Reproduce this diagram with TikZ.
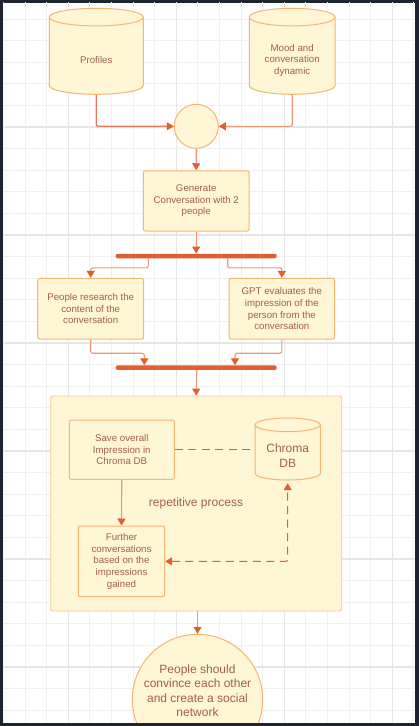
\documentclass[tikz,border=0pt]{standalone}
\usepackage{fontspec}
\setmainfont{Liberation Sans}
\usetikzlibrary{arrows.meta,calc}

\definecolor{frame}{HTML}{1E2430}
\definecolor{gridminor}{HTML}{F0F0F0}
\definecolor{gridmajor}{HTML}{E6E6E6}
\definecolor{boxfill}{HTML}{FFF6D6}
\definecolor{boxline}{HTML}{F5B574}
\definecolor{contline}{HTML}{F8C594}
\definecolor{txt}{HTML}{A0604A}
\definecolor{wire}{HTML}{F0977A}
\definecolor{tip}{HTML}{E35E2E}

\tikzset{
  box/.style={draw=boxline, fill=boxfill, line width=1pt, rounded corners=2pt,
    text=txt, align=center, inner sep=2pt,
    font=\fontsize{9.7}{11.7}\selectfont},
  dbtext/.style={text=txt, align=center, inner sep=0pt,
    font=\fontsize{9.7}{11.7}\selectfont},
  dbstyle/.style={draw=boxline, fill=boxfill, line width=1pt},
  hubnode/.style={circle, draw=boxline, fill=boxfill, line width=1pt, inner sep=0pt},
  barnode/.style={fill=tip, rounded corners=2pt, inner sep=0pt, minimum height=4.5pt},
  wire/.style={draw=wire, line width=1.1pt, rounded corners=2pt,
    -{Triangle[width=8pt,length=7pt,color=tip]}},
  dashline/.style={draw=tip, line width=1pt, dash pattern=on 8pt off 5.5pt, rounded corners=2pt},
  txtnode/.style={text=txt, align=center, inner sep=0pt,
    font=\fontsize{12}{14.4}\selectfont},
}

% cylinder outline: x-left, x-right, y-top, y-bottom, ellipse half-height
\newcommand\drawdb[5]{%
  \pgfmathsetmacro\dbrx{(#2-#1)/2}%
  \path[dbstyle] (#1,#3+#5) -- (#1,#4-#5)
    arc[start angle=180,end angle=360,x radius=\dbrx pt,y radius=#5pt]
    -- (#2,#3+#5)
    arc[start angle=0,end angle=180,x radius=\dbrx pt,y radius=#5pt] -- cycle;
  \draw[dbstyle, fill=none] (#1,#3+#5)
    arc[start angle=180,end angle=360,x radius=\dbrx pt,y radius=#5pt];
}

\begin{document}
\begin{tikzpicture}[x=1pt,y=-1pt]
\useasboundingbox (0,0) rectangle (419,726);

% window frame
\fill[frame] (0,0) rectangle (419,726);
\fill[white] (3.3,2.7) rectangle (414.7,722.7);

\begin{scope}
\clip (3.3,2.7) rectangle (414.7,722.7);

% background grid
\foreach \k in {0,...,19} {
  \pgfmathsetmacro\gx{3.4+21.6*\k}
  \draw[gridminor, line width=1pt] (\gx,0) -- (\gx,726);
}
\foreach \k in {1,...,33} {
  \pgfmathsetmacro\gy{-2.6+21.6*\k}
  \draw[gridminor, line width=1pt] (0,\gy) -- (419,\gy);
}
\foreach \gx in {68.2,176.2,284.2,392.2}
  \draw[gridmajor, line width=1.2pt] (\gx,0) -- (\gx,726);
\foreach \gy in {127,235,343,451,559,667}
  \draw[gridmajor, line width=1.2pt] (0,\gy) -- (419,\gy);

% data sources
\drawdb{49.3}{143.3}{8.3}{94.3}{8.8}
\node[dbtext, minimum width=94pt, minimum height=68.3pt] (profiles) at (96.3,60.2) {Profiles};
\drawdb{249.3}{335}{8.3}{94.3}{8.8}
\node[dbtext, minimum width=85.7pt, minimum height=68.3pt] (mood) at (292.2,60.2)
  {Mood and\\conversation\\dynamic};

% merge point
\node[hubnode, minimum size=44pt] (hub) at (196.3,126.3) {};

\node[box, minimum width=105.7pt, minimum height=60.3pt] (gen) at (196.2,200.9)
  {Generate\\Conversation with 2\\people};

\node[barnode, minimum width=161pt] (bar1) at (196.2,256) {};

\node[box, minimum width=106pt, minimum height=60.7pt] (research) at (90.7,308.7)
  {People research the\\content of the\\conversation};
\node[box, minimum width=105.7pt, minimum height=60.7pt] (gpt) at (281.85,308.7)
  {GPT evaluates the\\impression of the\\person from the\\conversation};

\node[barnode, minimum width=161pt] (bar2) at (196.2,367.7) {};

% repeating loop
\node[draw=contline, fill=boxfill, line width=0.9pt, rounded corners=2pt,
  minimum width=291pt, minimum height=215pt] (loop) at (196.2,503.5) {};

\node[box, minimum width=105pt, minimum height=59.3pt] (save) at (121.8,449.7)
  {Save overall\\Impression in\\Chroma DB};
\drawdb{255}{320.3}{418}{480}{6.8}
\node[txtnode, minimum width=65.3pt, minimum height=48.4pt] (chroma) at (287.7,455.8)
  {Chroma\\DB};
\node[txtnode] (rep) at (196,503.5) {repetitive process};
\node[box, minimum width=86.4pt, minimum height=70.7pt] (further) at (121.5,561.35)
  {Further\\conversations\\based on the\\impressions\\gained};

% outcome
\node[hubnode, minimum size=130.4pt] (goal) at (197.5,699.5) {};
\node[txtnode] (goaltext) at (197.5,690.7)
  {People should\\convince each other\\and create a social\\network};

% connectors
\draw[wire, line width=1.3pt, draw={rgb,255:red,234;green,120;blue,86}] (profiles.south) |- (hub.west);
\draw[wire] (mood.south) |- (hub.east);
\draw[wire] (hub.south) -- (gen.north);
\draw[wire] (gen.south) -- (bar1.north);
\draw[wire] ($(bar1.south)+(-47.9,0)$) |- ($(research.north)+(0,-10)$) -- (research.north);
\draw[wire] ($(bar1.south)+(31.5,0)$) |- ($(gpt.north)+(0,-10)$) -- (gpt.north);
\draw[wire] (research.south) -- ++(0,13.7) -| ($(bar2.north)+(-51.9,0)$);
\draw[wire] (gpt.south) -- ++(0,13.7) -| ($(bar2.north)+(38.8,0)$);
\draw[wire] (bar2.south) -- (loop.north);
\draw[wire] (save.south) -- (further.north);
\draw[dashline] (save.east) -- (save.east -| chroma.west);
\draw[dashline, {Triangle[width=8pt,length=7pt,color=tip]}-{Triangle[width=8pt,length=7pt,color=tip]}]
  (further.east) -| ($(chroma.south)+(0,3)$);
\draw[wire] (goal.north |- loop.south) -- (goal.north);
\end{scope}
\end{tikzpicture}
\end{document}
